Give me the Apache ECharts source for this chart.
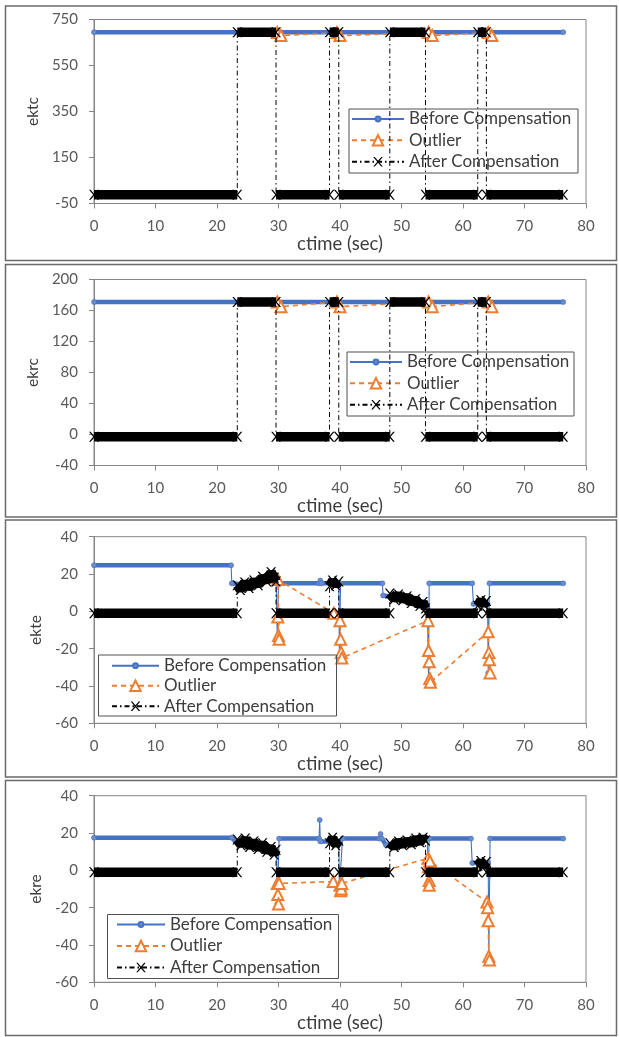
<!DOCTYPE html>
<html><head><meta charset="utf-8">
<script src="https://cdn.jsdelivr.net/npm/echarts/dist/echarts.min.js"></script>
<style>html,body{margin:0;padding:0;background:#fff}#c{width:619px;height:1037px}</style>
</head><body><div id="c"></div>
<script>
// ---------------- data ----------------
const seriesNames = ['Before Compensation', 'Outlier', 'After Compensation'];
const panelNames = ['ektc', 'ekrc', 'ekte', 'ekre'];
const xTitle = 'ctime (sec)';
const xRange = [0, 80, 10];
const yRanges = [[-50, 750, 200], [-40, 200, 40], [-60, 40, 20], [-60, 40, 20]];

// Panel 1: ektc
const ektcBefore = [[[0, 695], [76.3, 695]]];
const ektcOutlier = [[29.8, 693], [30.4, 680], [39.5, 693], [40.0, 680], [54.4, 693], [55.0, 680], [64.1, 693], [64.7, 680]];
const ektcAfter = [
  [[0, -12], [23.3, -12]],
  [[23.3, 695], [29.6, 695]],
  [[29.6, -12], [38.3, -12]],
  [[38.3, 695], [39.8, 695]],
  [[39.8, -12], [48.1, -12]],
  [[48.1, 695], [53.9, 695]],
  [[53.9, -12], [62.4, -12]],
  [[62.4, 695], [63.8, 695]],
  [[63.8, -12], [76.3, -12]]
];

// Panel 2: ekrc
const ekrcBefore = [[[0, 171], [76.3, 171]]];
const ekrcOutlier = [[29.8, 171], [30.4, 165], [39.5, 171], [40.0, 165], [54.4, 171], [55.0, 165], [64.1, 171], [64.7, 165]];
const ekrcAfter = [
  [[0, -3], [23.3, -3]],
  [[23.3, 171], [29.6, 171]],
  [[29.6, -3], [38.3, -3]],
  [[38.3, 171], [39.8, 171]],
  [[39.8, -3], [48.1, -3]],
  [[48.1, 171], [53.9, 171]],
  [[53.9, -3], [62.4, -3]],
  [[62.4, 171], [63.8, 171]],
  [[63.8, -3], [76.3, -3]]
];

// Panel 3: ekte
const ekteBefore = [
  [[0, 24.7], [22.3, 24.7]],
  [[22.4, 15], [24, 14.5], [26, 16], [28, 18.5], [29.6, 19.5]],
  [[29.8, -14]],
  [[30.0, 15], [36.6, 15]],
  [[36.8, 16.5]],
  [[37.0, 15], [39.8, 15]],
  [[39.9, -24]],
  [[40.1, 15], [46.9, 15]],
  [[47.0, 8.5], [49, 7.5], [51, 6], [53, 4], [54.2, 2]],
  [[54.4, -37]],
  [[54.5, 15], [61.5, 15]],
  [[61.7, 4], [64.0, 4]],
  [[64.1, -33]],
  [[64.3, 15], [76.3, 15]]
];
const ekteOutlier = [[29.9, -3], [30.0, -13], [30.1, -15], [29.9, 17], [39.0, -1], [40.0, -5], [40.1, -15], [40.2, -22], [40.3, -25],
  [54.3, -5], [54.4, -21], [54.5, -27], [54.6, -36], [54.7, -38], [64.1, -11], [64.2, -22], [64.3, -26], [64.4, -33]];
const ekteAfter = [
  [[0, -1], [23.3, -1]],
  [[23.3, 14], [23.8, 11.5], [24.5, 15.5], [25.2, 12.5], [26, 16.5], [26.7, 14], [27.4, 18.5], [28.1, 16], [28.8, 21], [29.3, 18], [29.6, 16]],
  [[29.6, -1], [38.3, -1]],
  [[38.3, 13.5], [38.8, 16.5], [39.3, 14], [39.8, 16]],
  [[39.8, -1], [48.1, -1]],
  [[48.1, 9.5], [48.8, 6.5], [49.5, 9], [50.2, 6], [50.9, 8], [51.6, 4.5], [52.3, 6.5], [53, 3], [53.5, 5], [53.9, 1.5]],
  [[53.9, -1], [62.4, -1]],
  [[62.4, 3], [62.9, 6], [63.4, 3.5], [63.8, 5.5]],
  [[63.8, -1], [76.3, -1]]
];

// Panel 4: ekre
const ekreBefore = [
  [[0, 17.5], [22.4, 17.5], [23.0, 15.5], [25, 14.5], [27, 13], [29, 11], [29.7, 10]],
  [[29.8, -18]],
  [[30.1, 17], [36.6, 17]],
  [[36.7, 27]],
  [[36.8, 15.5], [39.8, 15.5]],
  [[39.9, -11]],
  [[40.4, 17], [46.4, 17]],
  [[46.6, 19.5]],
  [[46.8, 17], [47.5, 13.5], [49, 14.5], [51, 15.5], [53, 16.5], [54.2, 17]],
  [[54.3, -7]],
  [[54.5, 17], [61.3, 17]],
  [[61.5, 4], [64.1, 4]],
  [[64.2, -47]],
  [[64.4, 17], [76.3, 17]]
];
const ekreOutlier = [[29.8, -7], [29.9, -13], [30.0, -18], [30.1, -7], [38.9, -6], [40.0, -8], [40.1, -11], [40.2, -10], [40.3, -7],
  [54.3, 6.5], [54.4, 2], [54.5, -5.5], [54.5, -8], [54.6, 5], [63.9, -17], [64.0, -20], [64.1, -27], [64.2, -46], [64.3, -48]];
const ekreAfter = [
  [[0, -1], [23.3, -1]],
  [[23.3, 16.5], [23.9, 13.5], [24.6, 17], [25.3, 12.5], [26, 15.5], [26.7, 11.5], [27.4, 14.5], [28.1, 10], [28.8, 12.5], [29.3, 8.5], [29.6, 11]],
  [[29.6, -1], [38.3, -1]],
  [[38.3, 14.5], [38.8, 17.5], [39.3, 13.5], [39.8, 16]],
  [[39.8, -1], [48.1, -1]],
  [[48.1, 14.5], [48.8, 12.5], [49.5, 15.5], [50.2, 13.5], [50.9, 16], [51.6, 14], [52.3, 17], [53, 15], [53.5, 17.5], [53.9, 16]],
  [[53.9, -1], [62.4, -1]],
  [[62.4, 2.5], [62.9, 5], [63.4, 2], [63.8, 4.5]],
  [[63.8, -1], [76.3, -1]]
];

// ---------------- chart construction ----------------
const befores = [ektcBefore, ekrcBefore, ekteBefore, ekreBefore];
const outliers = [ektcOutlier, ekrcOutlier, ekteOutlier, ekreOutlier];
const afters = [ektcAfter, ekrcAfter, ekteAfter, ekreAfter];

const BLUE = '#4472C4', ORANGE = '#ED7D31', BLACK = '#000000';
const AXIS = '#868686', LABEL = '#595959', TEXT = '#3c3c3c';
const FONT = 'Lato';
const X_PATH = 'path://M0,0L1.6,0L5,3.9L8.4,0L10,0L5.8,5L10,10L8.4,10L5,6.1L1.6,10L0,10L4.2,5Z';

const gridTops = [19.5, 279.5, 536.7, 795.7];
const gridHeights = [184, 186, 186.6, 186.6];
const panelBoxes = [[5.5, 6, 611, 254.5], [5.5, 264.5, 611, 252.5], [5.5, 520, 611, 257], [5.5, 780.5, 611, 255]];
const legendLayouts = [
  {box: [349, 109, 229, 64], iconX: 351, iconW: 52, rows: [119, 140.3, 161.7]},
  {box: [347, 352, 227, 64], iconX: 349, iconW: 52, rows: [362, 383.3, 404.7]},
  {box: [98.5, 655, 238, 61], iconX: 111, iconW: 47, rows: [665.7, 685.7, 706.3]},
  {box: [107.5, 914.5, 231, 64], iconX: 116, iconW: 48, rows: [924.5, 946, 967.5]}
];

function flatRuns(runs) { return runs.reduce((a, r) => a.concat(r), []); }
function bandRuns(runs) {
  const out = [];
  runs.forEach((r, i) => { if (i > 0) out.push([r[0][0], '-']); r.forEach(p => out.push(p)); });
  return out;
}

const grids = [], xAxes = [], yAxes = [], series = [], legends = [], graphics = [];
for (let p = 0; p < 4; p++) {
  grids.push({left: 94, width: 492, top: gridTops[p], height: gridHeights[p], show: true,
    borderColor: AXIS, borderWidth: 1, backgroundColor: 'transparent', containLabel: false, outerBoundsMode: 'none'});
  xAxes.push({gridIndex: p, type: 'value', min: xRange[0], max: xRange[1], interval: xRange[2],
    name: xTitle, nameLocation: 'middle', nameGap: 31,
    nameTextStyle: {fontSize: 18.5, color: TEXT, fontFamily: FONT},
    axisLine: {show: true, onZero: false, lineStyle: {color: AXIS, width: 1}},
    axisTick: {show: true, inside: false, length: 5, lineStyle: {color: AXIS}},
    axisLabel: {fontSize: 15, color: LABEL, margin: 15, fontFamily: FONT},
    splitLine: {show: false}});
  yAxes.push({gridIndex: p, type: 'value', min: yRanges[p][0], max: yRanges[p][1], interval: yRanges[p][2],
    name: panelNames[p], nameLocation: 'middle', nameRotate: 90, nameGap: 42,
    nameTextStyle: {fontSize: 15.5, color: TEXT, fontFamily: FONT},
    axisLine: {show: true, onZero: false, lineStyle: {color: AXIS, width: 1}},
    axisTick: {show: true, inside: false, length: 5, lineStyle: {color: AXIS}},
    axisLabel: {fontSize: 15, color: LABEL, margin: 16, fontFamily: FONT},
    splitLine: {show: false}});

  series.push({name: seriesNames[0], type: 'line', xAxisIndex: p, yAxisIndex: p, z: 2,
    data: flatRuns(befores[p]), symbol: 'circle', symbolSize: 5, showSymbol: true, showAllSymbol: true,
    lineStyle: {color: BLUE, width: 1.1}, itemStyle: {color: '#6a8cc8', borderColor: BLUE, borderWidth: 0.6},
    silent: true, animation: false});
  series.push({name: seriesNames[0], type: 'line', xAxisIndex: p, yAxisIndex: p, z: 1,
    data: bandRuns(befores[p]), symbol: 'none', connectNulls: false,
    lineStyle: {color: BLUE, width: 4.5}, silent: true, animation: false});
  series.push({name: seriesNames[1], type: 'line', xAxisIndex: p, yAxisIndex: p, z: 3,
    data: outliers[p], symbol: 'emptyTriangle', symbolSize: 11, showSymbol: true, showAllSymbol: true,
    lineStyle: {color: ORANGE, width: 1.6, type: [5, 4]}, itemStyle: {color: ORANGE, borderColor: ORANGE, borderWidth: 1.4},
    silent: true, animation: false});
  series.push({name: seriesNames[2], type: 'line', xAxisIndex: p, yAxisIndex: p, z: 5,
    data: flatRuns(afters[p]), symbol: X_PATH, symbolSize: 10, showSymbol: true, showAllSymbol: true,
    lineStyle: {color: BLACK, width: 1, type: [5, 3, 1.5, 3]}, itemStyle: {color: BLACK},
    silent: true, animation: false});
  series.push({name: seriesNames[2], type: 'line', xAxisIndex: p, yAxisIndex: p, z: 4,
    data: bandRuns(afters[p]), symbol: 'none', connectNulls: false,
    lineStyle: {color: BLACK, width: 9.5}, silent: true, animation: false});

  const L = legendLayouts[p];
  const iconHeights = [6, 13, 12];
  for (let k = 0; k < 3; k++) {
    legends.push({show: true, orient: 'vertical', left: L.iconX, top: L.rows[k] - 8.5, padding: 0, itemGap: 0,
      itemWidth: L.iconW, itemHeight: iconHeights[k], data: [seriesNames[k]], selectedMode: false,
      textStyle: {fontSize: 17, color: TEXT, fontFamily: FONT}});
  }
  graphics.push({type: 'rect', shape: {x: L.box[0], y: L.box[1], width: L.box[2], height: L.box[3]},
    style: {fill: 'none', stroke: '#505050', lineWidth: 1}, z: 10, silent: true});
  const B = panelBoxes[p];
  graphics.push({type: 'rect', shape: {x: B[0], y: B[1], width: B[2], height: B[3]},
    style: {fill: 'none', stroke: '#6a6a6a', lineWidth: 1.5}, z: 10, silent: true});
}

const chart = echarts.init(document.getElementById('c'), null, {renderer: 'canvas'});
chart.setOption({
  animation: false,
  backgroundColor: '#ffffff',
  textStyle: {fontFamily: FONT},
  grid: grids, xAxis: xAxes, yAxis: yAxes, series: series, legend: legends, graphic: graphics,
  tooltip: {show: false}
});
</script></body></html>
